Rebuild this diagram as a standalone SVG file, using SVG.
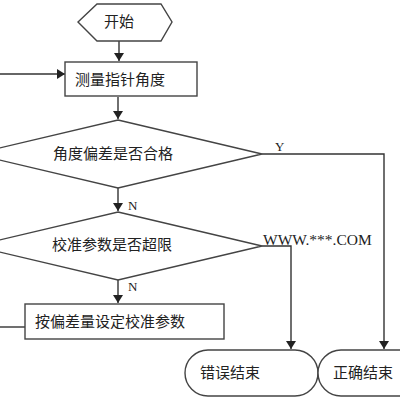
<svg xmlns="http://www.w3.org/2000/svg" width="400" height="400" viewBox="0 0 400 400">
<defs>
<marker id="ah" markerWidth="8" markerHeight="10" refX="8" refY="5" orient="auto" markerUnits="userSpaceOnUse">
<path d="M0,0 L8,5 L0,10 Z" fill="#222"/>
</marker>
<style>
.s{fill:#fff;stroke:#444;stroke-width:1.4}
.c{fill:none;stroke:#333;stroke-width:1.4}
.t{font-family:"Noto Sans CJK SC","Noto Sans",sans-serif;font-size:15px;fill:#222}
.l{font-family:"Liberation Serif",serif;font-size:13px;fill:#222}
</style>
</defs>
<rect width="400" height="400" fill="#fff"/>
<g id="connectors">
<path class="c" d="M119,41 V61" marker-end="url(#ah)"/>
<path class="c" d="M0,74 H65" marker-end="url(#ah)"/>
<path class="c" d="M118,97 V119" marker-end="url(#ah)"/>
<path class="c" d="M118,188 V211" marker-end="url(#ah)"/>
<path class="c" d="M118,280 V303" marker-end="url(#ah)"/>
<path class="c" d="M262,154 H384 V349" marker-end="url(#ah)"/>
<path class="c" d="M262,246 H291 V349" marker-end="url(#ah)"/>
<path class="c" d="M25,327 H0"/>
<text class="l" x="275" y="151">Y</text>
<text class="l" x="128" y="210">N</text>
<text class="l" x="128" y="291">N</text>
</g>
<g id="start">
<polygon class="s" points="78,22 97,4 161,4 172,22 161,41 97,41"/>
<text class="t" x="119" y="27" text-anchor="middle">开始</text>
</g>
<g id="measure">
<rect class="s" x="65" y="62" width="132" height="34"/>
<text class="t" x="75" y="85">测量指针角度</text>
</g>
<g id="check1">
<polygon class="s" points="118,120 262,154 118,188 -26,154"/>
<text class="t" x="113" y="159" text-anchor="middle">角度偏差是否合格</text>
</g>
<g id="check2">
<polygon class="s" points="118,212 262,246 118,280 -26,246"/>
<text class="t" x="112" y="250" text-anchor="middle">校准参数是否超限</text>
</g>
<g id="adjust">
<rect class="s" x="25" y="304" width="199" height="35"/>
<text class="t" x="35" y="327">按偏差量设定校准参数</text>
</g>
<g id="errend">
<rect class="s" x="185" y="350" width="133" height="46" rx="23" ry="23"/>
<text class="t" x="200" y="378">错误结束</text>
</g>
<g id="okend">
<rect class="s" x="318" y="350" width="120" height="46" rx="23" ry="23"/>
<text class="t" x="333" y="378">正确结束</text>
</g>
<text x="263" y="245" font-family="Liberation Serif, serif" font-size="15.5" fill="#222">WWW.***.COM</text>
</svg>
